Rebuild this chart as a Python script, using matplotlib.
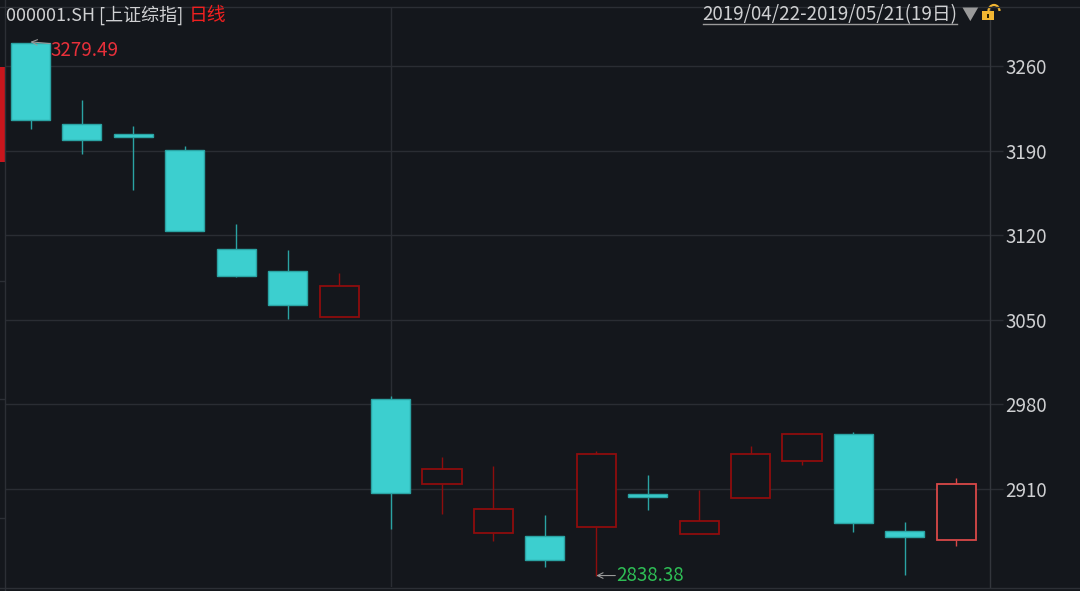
import matplotlib
matplotlib.use("Agg")
import matplotlib.pyplot as plt
from matplotlib.patches import Rectangle, Arc
from matplotlib.lines import Line2D

plt.rcParams['font.family'] = ['Noto Sans CJK SC', 'DejaVu Sans']

# 上证综指 日线 2019/04/22 - 2019/05/21
dates = ['04/22', '04/23', '04/24', '04/25', '04/26', '04/29', '04/30',
         '05/06', '05/07', '05/08', '05/09', '05/10', '05/13', '05/14',
         '05/15', '05/16', '05/17', '05/20', '05/21']
opens = [3279.0, 3211.8, 3203.6, 3190.5, 3108.3, 3090.6, 3052.6,
         2984.5, 2914.1, 2873.4, 2871.1, 2878.3, 2905.5, 2873.0,
         2902.8, 2933.4, 2955.8, 2875.0, 2867.8]
highs = [3279.49, 3231.9, 3210.6, 3193.8, 3129.3, 3107.8, 3088.5,
         2987.0, 2936.7, 2929.3, 2888.7, 2941.2, 2921.3, 2909.2,
         2945.6, 2956.3, 2956.9, 2882.5, 2919.1]
lows = [3207.9, 3187.4, 3157.6, 3123.5, 3085.8, 3050.4, 3052.6,
        2877.2, 2889.6, 2867.0, 2845.7, 2838.38, 2892.6, 2873.0,
        2902.8, 2929.6, 2874.4, 2839.1, 2862.9]
closes = [3215.3, 3198.8, 3201.6, 3123.7, 3086.2, 3062.5, 3078.0,
          2906.4, 2926.3, 2893.5, 2851.0, 2939.0, 2903.7, 2883.3,
          2938.7, 2955.5, 2882.1, 2870.6, 2914.1]
yticks = [2910, 2980, 3050, 3120, 3190, 3260]

title_code = '000001.SH [上证综指]'
title_period = '日线'
range_text = '2019/04/22-2019/05/21(19日)'

BG = '#14171c'
GRID = '#2a2d33'
CYAN = '#3ccfcf'
CYAN_EDGE = '#2aa3a3'
DARK_RED = '#8e0d0d'
LAST_RED = '#d94848'
TXT = '#cfd0d2'
FS = 13.5

W, H = 1080, 591
fig = plt.figure(figsize=(W / 100, H / 100), dpi=100, facecolor=BG)


def fx(x):
    return x / W


def fy(y):
    return 1 - y / H


ax = fig.add_axes([fx(5), fy(587), fx(985), 580 / H])
ax.set_facecolor(BG)
ax.set_xlim(-0.496, 18.655)
ax.set_ylim(2828.9, 3308.8)

for v in yticks:
    ax.axhline(v, color=GRID, lw=1.0, zorder=0)
ax.axvline(7, color=GRID, lw=1.0, zorder=0)

bw = 0.76
n = len(dates)
for i in range(n):
    o, h, l, c = opens[i], highs[i], lows[i], closes[i]
    top, bot = max(o, c), min(o, c)
    if bot == top:
        top = bot + 1.5
    if c >= o:
        col = LAST_RED if i == n - 1 else DARK_RED
        ax.vlines(i, top, h, color=col, lw=1.0, zorder=2)
        ax.vlines(i, l, bot, color=col, lw=1.0, zorder=2)
        ax.add_patch(Rectangle((i - bw / 2, bot), bw, top - bot,
                               facecolor=BG, edgecolor=col, lw=1.3, zorder=3))
    else:
        ax.vlines(i, l, h, color=CYAN_EDGE, lw=1.0, zorder=2)
        ax.add_patch(Rectangle((i - bw / 2, bot), bw, top - bot,
                               facecolor=CYAN, edgecolor=CYAN_EDGE, lw=1.0, zorder=3))

# 最高 / 最低 标注
hi = highs.index(max(highs))
lo = lows.index(min(lows))
ax.annotate('', xy=(hi, max(highs) + 0.5), xytext=(hi + 0.38, max(highs) - 1.0),
            arrowprops=dict(arrowstyle='->', color='#9a9a9a', lw=0.8,
                            shrinkA=0, shrinkB=0))
ax.text(hi + 0.38, 3273.2, f'{max(highs):.2f}', color='#e8303a', fontsize=FS,
        ha='left', va='center')
ax.annotate('', xy=(lo, min(lows)), xytext=(lo + 0.37, min(lows)),
            arrowprops=dict(arrowstyle='->', color='#9a9a9a', lw=0.8,
                            shrinkA=0, shrinkB=0))
ax.text(lo + 0.38, min(lows), f'{min(lows):.2f}', color='#2ebd55', fontsize=FS,
        ha='left', va='center')

ax.set_yticks(yticks)
ax.set_xticks([])
ax.yaxis.tick_right()
ax.tick_params(axis='y', colors=GRID, labelcolor=TXT, labelsize=FS,
               length=9, width=1.0, pad=2)
for s in ['left', 'top', 'bottom']:
    ax.spines[s].set_visible(False)
ax.spines['right'].set_color('#33363c')
ax.spines['right'].set_linewidth(1.0)

# 边框和左侧标记
fig.add_artist(Line2D([0, 1], [fy(7), fy(7)], color='#2c2f35', lw=1.0))
fig.add_artist(Line2D([0, 1], [fy(587.5), fy(587.5)], color='#2c2f35', lw=1.0))
fig.add_artist(Line2D([fx(4.5), fx(4.5)], [fy(0), fy(591)], color='#2c2f35', lw=1.0))
for y in [281, 399, 518]:
    fig.add_artist(Line2D([0, fx(4)], [fy(y), fy(y)], color='#2c2f35', lw=1.0))
fig.add_artist(Rectangle((0, fy(162)), fx(4.5), (162 - 67) / H,
                         facecolor='#c8161d', edgecolor='none'))

# 标题
t = fig.text(fx(6), fy(15), title_code, color=TXT, fontsize=13, va='center', ha='left')
fig.canvas.draw()
bb = t.get_window_extent()
fig.text(bb.x1 / W + fx(5), fy(15), title_period, color='#f02020', fontsize=FS,
         va='center', ha='left')

fig.text(fx(957), fy(15), range_text, color=TXT, fontsize=FS, va='center', ha='right')
fig.add_artist(Line2D([fx(703), fx(957)], [fy(23.5), fy(23.5)], color='#9a9a9a', lw=1.0))
fig.text(fx(970), fy(15), '▼', color='#9a9a9a', fontsize=12, va='center', ha='center')

# 锁图标
fig.add_artist(Rectangle((fx(982), fy(20)), fx(11.5), 9 / H,
                         facecolor='#f2b632', edgecolor='none'))
fig.add_artist(Rectangle((fx(987), fy(18)), fx(1.5), 4 / H,
                         facecolor='#2a2000', edgecolor='none'))
fig.add_artist(Arc((fx(994), fy(11)), fx(11), 12 / H, theta1=0, theta2=180,
                   color='#f2b632', lw=1.6))

fig.savefig('out.png', dpi=100, facecolor=BG)
